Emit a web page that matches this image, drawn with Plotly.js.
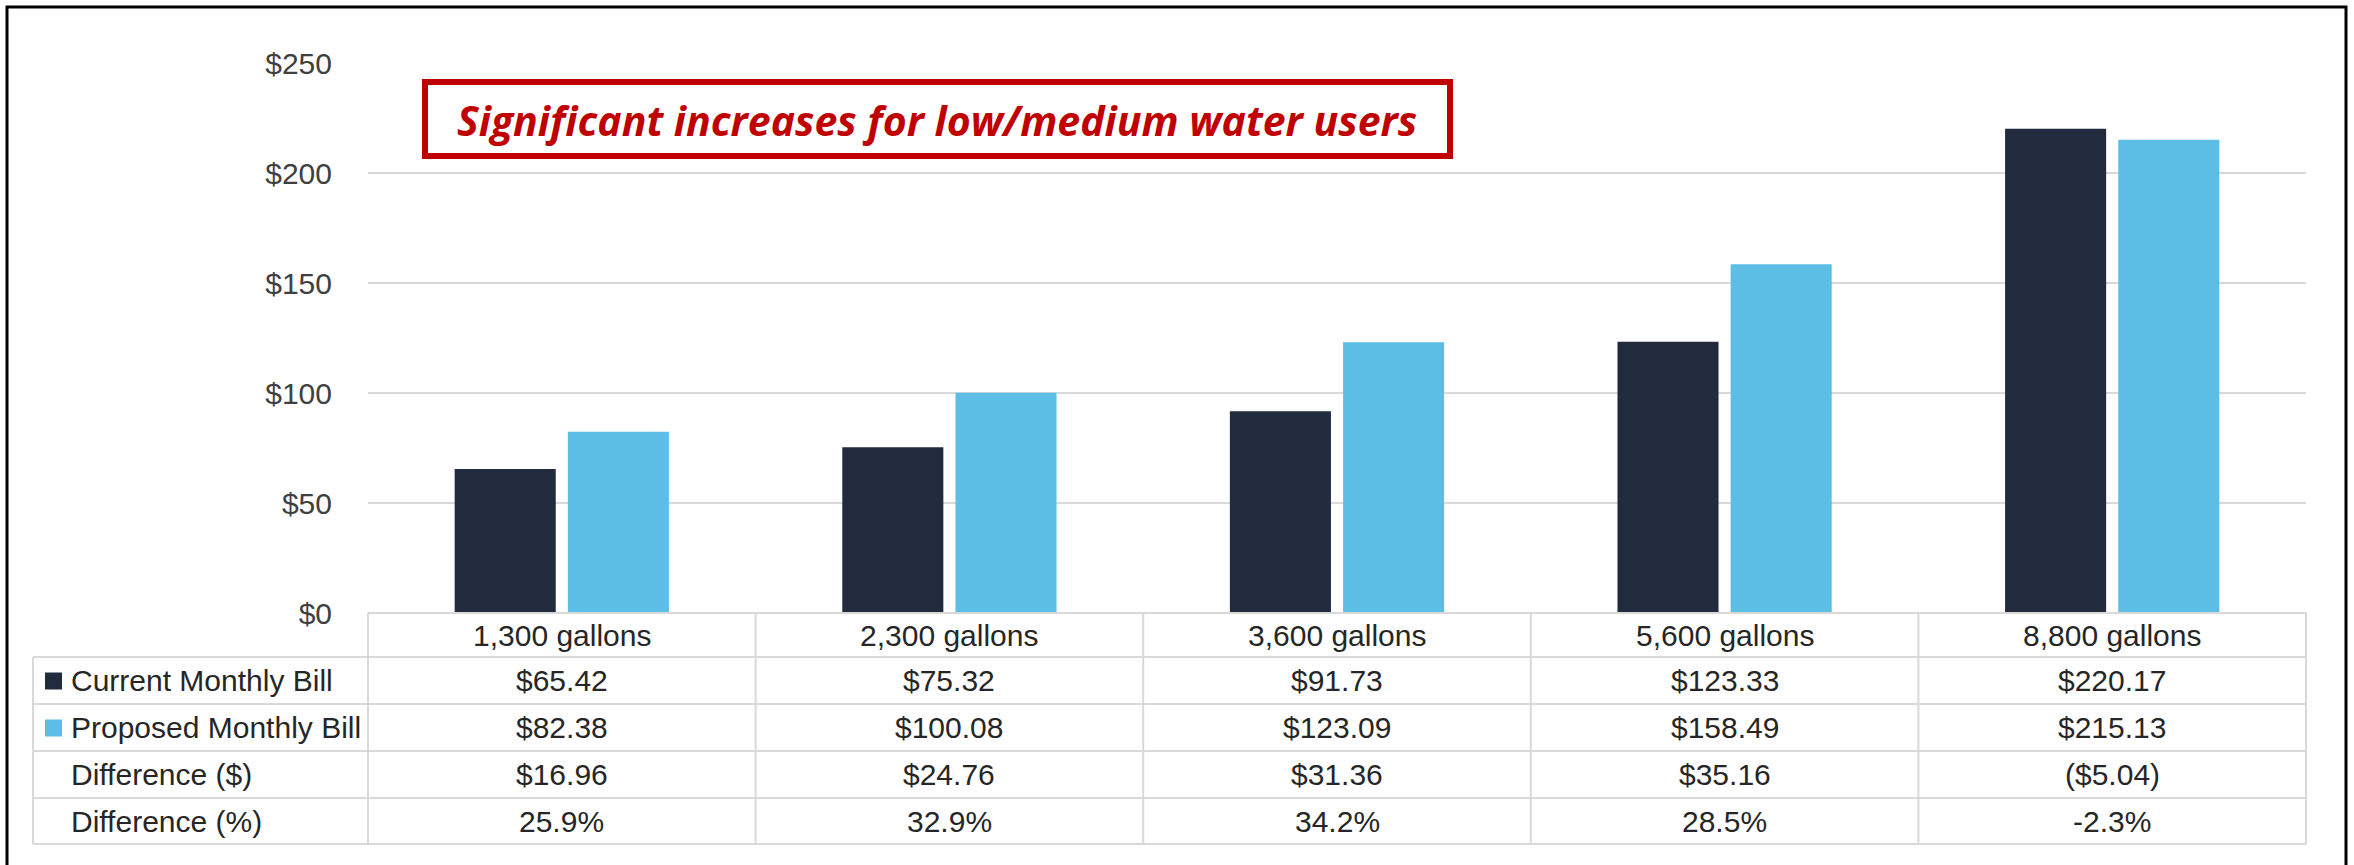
<!DOCTYPE html>
<html>
<head>
<meta charset="utf-8">
<script src="https://cdn.plot.ly/plotly-3.0.1.min.js"></script>
<style>html,body{margin:0;padding:0;background:#fff;}#chart{width:2354px;height:865px;}</style>
</head>
<body>
<div id="chart"></div>
<script>
// ---- data ----
const categories = ["1,300 gallons", "2,300 gallons", "3,600 gallons", "5,600 gallons", "8,800 gallons"];
const currentBill = [65.42, 75.32, 91.73, 123.33, 220.17];
const proposedBill = [82.38, 100.08, 123.09, 158.49, 215.13];
const diffDollar = [16.96, 24.76, 31.36, 35.16, -5.04];
const diffPercent = [25.9, 32.9, 34.2, 28.5, -2.3];
const rowLabels = ["Current Monthly Bill", "Proposed Monthly Bill", "Difference ($)", "Difference (%)"];
const seriesNames = ["Current Monthly Bill", "Proposed Monthly Bill"];
const yTickVals = [0, 50, 100, 150, 200, 250];
const yTickText = ["$0", "$50", "$100", "$150", "$200", "$250"];
const calloutText = "Significant increases for low/medium water users";

// ---- styling / geometry ----
const W = 2354, H = 865;
const plotL = 368, plotR = 2306, plotT = 63, plotB = 613;
const darkColor = "#212B3D", lightColor = "#5DBEE5";
const gridColor = "#D9D9D9";
const textColor = "#262626";
const tableFont = "Liberation Sans, Arial, sans-serif";
const tableSize = 30;
const px = x => (x - plotL) / (plotR - plotL);
const py = y => (plotB - y) / (plotB - plotT);

const fmtMoney = v => v < 0 ? "($" + Math.abs(v).toFixed(2) + ")" : "$" + v.toFixed(2);
const fmtPct = v => v.toFixed(1) + "%";

const rowEdges = [613, 657, 704, 751, 798, 844];
const tableLeft = 33;

const traces = [
  {type: "bar", name: seriesNames[0], x: categories, y: currentBill, marker: {color: darkColor}, hoverinfo: "skip"},
  {type: "bar", name: seriesNames[1], x: categories, y: proposedBill, marker: {color: lightColor}, hoverinfo: "skip"}
];

const shapes = [];
const annotations = [];

// table horizontal lines
shapes.push({type: "line", xref: "paper", yref: "paper", x0: 0, x1: 1, y0: py(rowEdges[0]), y1: py(rowEdges[0]), line: {color: gridColor, width: 2}});
for (let i = 1; i < rowEdges.length; i++) {
  shapes.push({type: "line", xref: "paper", yref: "paper", x0: px(tableLeft), x1: 1, y0: py(rowEdges[i]), y1: py(rowEdges[i]), line: {color: gridColor, width: 2}});
}
// table vertical lines
for (let k = 0; k <= categories.length; k++) {
  shapes.push({type: "line", xref: "paper", yref: "paper", x0: k / categories.length, x1: k / categories.length, y0: py(rowEdges[0]), y1: py(rowEdges[rowEdges.length - 1]), line: {color: gridColor, width: 2}});
}
shapes.push({type: "line", xref: "paper", yref: "paper", x0: px(tableLeft), x1: px(tableLeft), y0: py(rowEdges[1]), y1: py(rowEdges[rowEdges.length - 1]), line: {color: gridColor, width: 2}});

// legend keys
const keyColors = [darkColor, lightColor];
for (let r = 0; r < 2; r++) {
  const yc = (rowEdges[r + 1] + rowEdges[r + 2]) / 2;
  shapes.push({type: "rect", xref: "paper", yref: "paper", x0: px(45), x1: px(62), y0: py(yc - 8), y1: py(yc + 9), fillcolor: keyColors[r], line: {width: 0}});
}

// header text
categories.forEach((c, i) => {
  annotations.push({xref: "x", yref: "paper", x: c, y: py((rowEdges[0] + rowEdges[1]) / 2), text: c, showarrow: false, xanchor: "center", yanchor: "middle", font: {family: tableFont, size: tableSize, color: textColor}});
});
const rowValues = [currentBill.map(fmtMoney), proposedBill.map(fmtMoney), diffDollar.map(fmtMoney), diffPercent.map(fmtPct)];
rowLabels.forEach((lab, r) => {
  const yc = (rowEdges[r + 1] + rowEdges[r + 2]) / 2;
  annotations.push({xref: "paper", yref: "paper", x: px(69), y: py(yc), text: lab, showarrow: false, xanchor: "left", yanchor: "middle", font: {family: tableFont, size: tableSize, color: textColor}});
  rowValues[r].forEach((v, i) => {
    annotations.push({xref: "x", yref: "paper", x: categories[i], y: py(yc), text: v, showarrow: false, xanchor: "center", yanchor: "middle", font: {family: tableFont, size: tableSize, color: textColor}});
  });
});

// callout box
shapes.push({type: "rect", xref: "paper", yref: "paper", x0: px(425), x1: px(1450), y0: py(156), y1: py(82), line: {color: "#C00000", width: 6}, fillcolor: "#FFFFFF"});
annotations.push({xref: "paper", yref: "paper", x: px(937), y: py(120), text: "<b><i>" + calloutText + "</i></b>", showarrow: false, xanchor: "center", yanchor: "middle", font: {family: "Open Sans, Liberation Sans, sans-serif", size: 41, color: "#C00000"}});

// outer frame
shapes.push({type: "rect", xref: "paper", yref: "paper", x0: px(7), x1: px(2346), y0: py(868), y1: py(7), line: {color: "#000000", width: 3}});

const layout = {
  width: W, height: H,
  margin: {l: plotL, r: W - plotR, t: plotT, b: H - plotB, pad: 0},
  paper_bgcolor: "#FFFFFF", plot_bgcolor: "#FFFFFF",
  showlegend: false,
  barmode: "group", bargap: 0.416, bargroupgap: 0.107,
  xaxis: {type: "category", showticklabels: false, showgrid: false, zeroline: false, showline: false, ticks: "", fixedrange: true},
  yaxis: {range: [0, 250], tickvals: yTickVals, ticktext: yTickText, showgrid: true, gridcolor: gridColor, gridwidth: 2, zeroline: false, showline: false, ticks: "", ticklabelstandoff: 35,
          tickfont: {family: tableFont, size: 30, color: "#404040"}, fixedrange: true},
  shapes: shapes,
  annotations: annotations
};

Plotly.newPlot("chart", traces, layout, {displayModeBar: false, staticPlot: true});
</script>
</body>
</html>
